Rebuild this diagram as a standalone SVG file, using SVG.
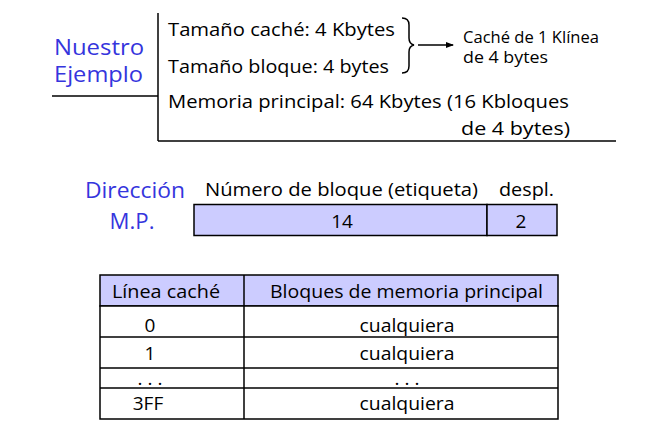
<svg xmlns="http://www.w3.org/2000/svg" width="657" height="429" viewBox="0 0 657 429">
<defs>
<style>
text{font-family:"Open Sans","DejaVu Sans",sans-serif;fill:#000}
.blue{fill:#3535dd;font-size:22px}
.main{font-size:19px}
.small{font-size:15.5px}
.ln{stroke:#000;stroke-width:1.5;fill:none}
.cell{fill:#ccccff;stroke:#000;stroke-width:1.5}
.tl{stroke:#000;stroke-width:1.5}
.mid{text-anchor:middle}
</style>
<marker id="ah" markerWidth="8" markerHeight="6" refX="7" refY="3" orient="auto" markerUnits="userSpaceOnUse">
<path d="M0,0 L8,3 L0,6 Z" fill="#000"/>
</marker>
</defs>
<rect width="657" height="429" fill="#fff"/>

<g id="ejemplo">
<text class="blue" x="54" y="55" textLength="90" lengthAdjust="spacingAndGlyphs">Nuestro</text>
<text class="blue" x="54" y="82" textLength="89" lengthAdjust="spacingAndGlyphs">Ejemplo</text>
</g>

<g id="frame">
<line class="ln" x1="52" y1="96" x2="158" y2="96"/>
<line class="ln" x1="158" y1="13" x2="158" y2="141"/>
<line class="ln" x1="158" y1="141" x2="616" y2="141"/>
</g>

<g id="params">
<text class="main" x="168" y="36" textLength="227" lengthAdjust="spacingAndGlyphs">Tamaño caché: 4 Kbytes</text>
<text class="main" x="168" y="73" textLength="221" lengthAdjust="spacingAndGlyphs">Tamaño bloque: 4 bytes</text>
<text class="main" x="168" y="108" textLength="401" lengthAdjust="spacingAndGlyphs">Memoria principal: 64 Kbytes (16 Kbloques</text>
<text class="main" x="461" y="135" textLength="109" lengthAdjust="spacingAndGlyphs">de 4 bytes)</text>
</g>

<g id="connectors">
<path class="ln" stroke-width="1.2" d="M402,18 Q409,18 409,25 L409,38 Q409,44 414,45 Q409,46 409,52 L409,66 Q409,73 402,73"/>
<line class="ln" stroke-width="1.2" x1="418" y1="45" x2="453" y2="45" marker-end="url(#ah)"/>
</g>

<g id="resultado">
<text class="small" x="463" y="43" textLength="136" lengthAdjust="spacingAndGlyphs">Caché de 1 Klínea</text>
<text class="small" x="463" y="63" textLength="85" lengthAdjust="spacingAndGlyphs">de 4 bytes</text>
</g>

<g id="direccion">
<text class="blue" x="135" y="198" text-anchor="middle" textLength="100" lengthAdjust="spacingAndGlyphs">Dirección</text>
<text class="blue" x="132" y="229" text-anchor="middle" textLength="45" lengthAdjust="spacingAndGlyphs">M.P.</text>
<text class="main" x="205" y="196" textLength="273" lengthAdjust="spacingAndGlyphs">Número de bloque (etiqueta)</text>
<text class="main" x="499" y="196" textLength="55" lengthAdjust="spacingAndGlyphs">despl.</text>
<rect class="cell" x="194" y="204.5" width="293" height="31"/>
<rect class="cell" x="487" y="204.5" width="70" height="31"/>
<text class="main mid" x="342" y="228">14</text>
<text class="main mid" x="521" y="228">2</text>
</g>

<g id="tabla">
<rect class="cell" x="100" y="275" width="458" height="31"/>
<rect x="100" y="306" width="458" height="113" fill="#fff" stroke="#000" stroke-width="1.5"/>
<line class="tl" x1="244" y1="275" x2="244" y2="419"/>
<line class="tl" x1="100" y1="337" x2="558" y2="337"/>
<line class="tl" x1="100" y1="368" x2="558" y2="368"/>
<line class="tl" x1="100" y1="388" x2="558" y2="388"/>
<text class="main" x="112" y="298" textLength="108" lengthAdjust="spacingAndGlyphs">Línea caché</text>
<text class="main" x="270" y="298" textLength="273" lengthAdjust="spacingAndGlyphs">Bloques de memoria principal</text>
<text class="main mid" x="150" y="332">0</text>
<text class="main mid" x="407" y="332" textLength="95" lengthAdjust="spacingAndGlyphs">cualquiera</text>
<text class="main mid" x="150" y="360">1</text>
<text class="main mid" x="407" y="360" textLength="95" lengthAdjust="spacingAndGlyphs">cualquiera</text>
<text class="main mid" x="150" y="385">. . .</text>
<text class="main mid" x="407" y="385">. . .</text>
<text class="main mid" x="148" y="410">3FF</text>
<text class="main mid" x="407" y="410" textLength="95" lengthAdjust="spacingAndGlyphs">cualquiera</text>
</g>
</svg>
